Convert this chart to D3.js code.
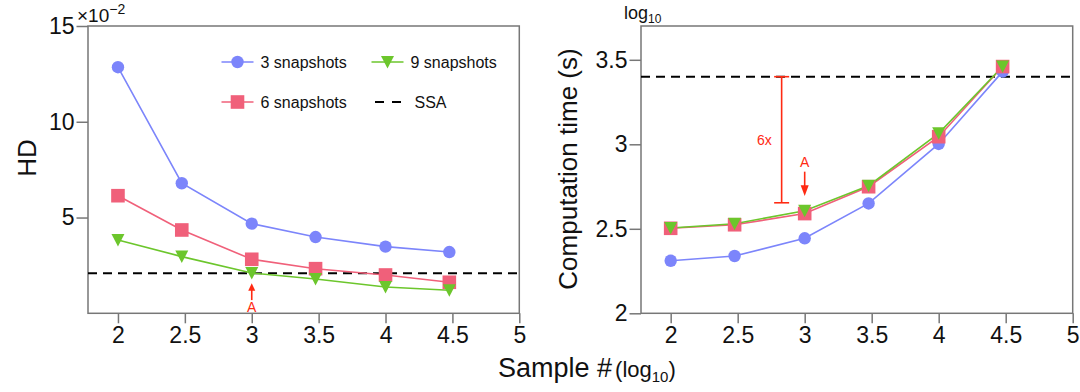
<!DOCTYPE html>
<html>
<head>
<meta charset="utf-8">
<script src="https://cdn.jsdelivr.net/npm/d3@7"></script>
<style>
  body { margin: 0; background: #fff; }
  svg { display: block; font-family: "Liberation Sans", Arial, Helvetica, sans-serif; }
</style>
</head>
<body>
<div class="graph"></div>
<script>
// sample # in log10 (100, 300, 1000, 3000, 10000, 30000)
var samples = [2, 2.477, 3, 3.477, 4, 4.477];

// HD (x10^-2)
var hd3 = [12.85, 6.79, 4.68, 3.98, 3.48, 3.20];
var hd6 = [6.14, 4.35, 2.82, 2.33, 2.00, 1.62];
var hd9 = [3.83, 2.96, 2.10, 1.79, 1.37, 1.20];
var hdSSA = 2.09;

// computation time, log10 seconds
var time3 = [2.311, 2.339, 2.444, 2.650, 3.002, 3.430];
var time6 = [2.503, 2.524, 2.590, 2.749, 3.045, 3.460];
var time9 = [2.505, 2.530, 2.607, 2.755, 3.065, 3.460];
var timeSSA = 3.40;

var xTicks = [2, 2.5, 3, 3.5, 4, 4.5, 5];
var hdTicks = [5, 10, 15];
var timeTicks = [2, 2.5, 3, 3.5];

var seriesNames = ["3 snapshots", "6 snapshots", "9 snapshots"];
var seriesColors = ["#7c85fb", "#f0607a", "#6cc62c"];
var seriesShapes = [d3.symbolCircle, d3.symbolSquare, "tri"];
var red = "#ff2a12";

var svg = d3.select(".graph").append("svg")
    .attr("width", 1080)
    .attr("height", 392);

function marker(sel, shape, color) {
    if (shape === "tri") {
        sel.append("path")
            .attr("d", "M-6.5,-6L6.5,-6L0,6.5Z")
            .attr("fill", color);
    } else if (shape === d3.symbolCircle) {
        sel.append("circle").attr("r", 6.2).attr("fill", color);
    } else {
        sel.append("rect").attr("x", -6.8).attr("y", -6.8)
            .attr("width", 13.6).attr("height", 13.6).attr("fill", color);
    }
}

function panel(opt) {
    var x = d3.scaleLinear().domain([opt.xmin, 5]).range(opt.xr);
    var y = d3.scaleLinear().domain(opt.ydom).range([313.3, 26]);
    var g = svg.append("g");

    // axes
    var xAxis = d3.axisBottom(x).tickValues(xTicks).tickSize(10).tickPadding(3.5)
        .tickFormat(function (d) { return d; });
    g.append("g").attr("transform", "translate(0," + y.range()[0] + ")")
        .call(xAxis)
        .call(function (a) {
            a.select(".domain").remove();
            a.selectAll("line").attr("stroke", "#777").attr("stroke-width", 1.5);
            a.selectAll("text").style("font-size", "23px").attr("fill", "#111");
        });
    var yAxis = d3.axisLeft(y).tickValues(opt.yticks).tickSize(11.5).tickPadding(2)
        .tickFormat(function (d) { return d; });
    g.append("g").attr("transform", "translate(" + x.range()[0] + ",0)")
        .call(yAxis)
        .call(function (a) {
            a.select(".domain").remove();
            a.selectAll("line").attr("stroke", "#777").attr("stroke-width", 1.5);
            a.selectAll("text").style("font-size", "23px").attr("fill", "#111");
        });

    // box
    g.append("rect")
        .attr("x", x.range()[0]).attr("y", y.range()[1])
        .attr("width", x.range()[1] - x.range()[0])
        .attr("height", y.range()[0] - y.range()[1])
        .attr("fill", "none").attr("stroke", "#777").attr("stroke-width", 1.5);

    // SSA
    g.append("line")
        .attr("x1", x.range()[0]).attr("x2", x.range()[1])
        .attr("y1", y(opt.ssa)).attr("y2", y(opt.ssa))
        .attr("stroke", "#000").attr("stroke-width", 2)
        .attr("stroke-dasharray", "9,6");

    var line = d3.line()
        .x(function (d, i) { return x(samples[i]); })
        .y(function (d) { return y(d); });

    opt.series.forEach(function (vals, k) {
        g.append("path").datum(vals)
            .attr("d", line)
            .attr("fill", "none")
            .attr("stroke", seriesColors[k])
            .attr("stroke-width", 1.6);
    });
    opt.series.forEach(function (vals, k) {
        g.selectAll(null).data(vals).enter().append("g")
            .attr("transform", function (d, i) { return "translate(" + x(samples[i]) + "," + y(d) + ")"; })
            .each(function () { marker(d3.select(this), seriesShapes[k], seriesColors[k]); });
    });
    return { g: g, x: x, y: y };
}

// ---------- left panel: HD ----------
var left = panel({
    xmin: 1.776, xr: [88, 519.3],
    ydom: [0, 15], yticks: hdTicks,
    ssa: hdSSA, series: [hd3, hd6, hd9]
});

// legend
var legendPos = [[237.5, 62], [237.5, 102], [387.5, 62]];
seriesNames.forEach(function (name, k) {
    var lg = left.g.append("g").attr("transform", "translate(" + legendPos[k][0] + "," + legendPos[k][1] + ")");
    lg.append("line").attr("x1", -16).attr("x2", 16)
        .attr("stroke", seriesColors[k]).attr("stroke-width", 1.6);
    marker(lg, seriesShapes[k], seriesColors[k]);
    lg.append("text").attr("x", 23).attr("dy", "0.35em")
        .style("font-size", "16px").attr("fill", "#111").text(name);
});
var ssaLg = left.g.append("g").attr("transform", "translate(387.5,102)");
ssaLg.append("line").attr("x1", -12.5).attr("x2", 13.5)
    .attr("stroke", "#000").attr("stroke-width", 2).attr("stroke-dasharray", "9,8");
ssaLg.append("text").attr("x", 27).attr("dy", "0.35em")
    .style("font-size", "16px").attr("fill", "#111").text("SSA");

// A arrow (left)
var lx = left.x(3);
left.g.append("line").attr("x1", lx).attr("x2", lx)
    .attr("y1", left.y(0.69)).attr("y2", left.y(1.3))
    .attr("stroke", red).attr("stroke-width", 1.6);
left.g.append("path")
    .attr("d", "M" + (lx - 3.5) + "," + (left.y(1.18)) + "L" + (lx + 3.5) + "," + (left.y(1.18)) + "L" + lx + "," + left.y(1.57) + "Z")
    .attr("fill", red);
left.g.append("text").attr("x", lx).attr("y", left.y(0.09))
    .attr("text-anchor", "middle").style("font-size", "14px").attr("fill", red).text("A");

// y label + multiplier
svg.append("text")
    .attr("transform", "translate(27,158) rotate(-90)")
    .attr("text-anchor", "middle").attr("dy", "0.35em")
    .style("font-size", "26px").attr("fill", "#111").text("HD");
var mult = svg.append("text").attr("x", 77).attr("y", 21.5)
    .style("font-size", "19px").attr("fill", "#111");
mult.append("tspan").text("\u00d710");
mult.append("tspan").attr("dy", -8).style("font-size", "14px").text("\u22122");

// ---------- right panel: computation time ----------
var right = panel({
    xmin: 1.7785, xr: [641, 1072.7],
    ydom: [2, 3.7], yticks: timeTicks,
    ssa: timeSSA, series: [time3, time6, time9]
});

// 6x bracket
var bx = right.x(2.828);
right.g.append("line").attr("x1", bx).attr("x2", bx)
    .attr("y1", right.y(timeSSA)).attr("y2", right.y(2.654))
    .attr("stroke", red).attr("stroke-width", 1.6);
[timeSSA, 2.654].forEach(function (v) {
    right.g.append("line").attr("x1", bx - 7.5).attr("x2", bx + 7.5)
        .attr("y1", right.y(v)).attr("y2", right.y(v))
        .attr("stroke", red).attr("stroke-width", 1.6);
});
right.g.append("text").attr("x", right.x(2.755)).attr("y", right.y(3.025))
    .attr("text-anchor", "end").attr("dy", "0.35em")
    .style("font-size", "14px").attr("fill", red).text("6x");

// A arrow (right)
var rx = right.x(3);
right.g.append("line").attr("x1", rx).attr("x2", rx)
    .attr("y1", right.y(2.838)).attr("y2", right.y(2.75))
    .attr("stroke", red).attr("stroke-width", 1.6);
right.g.append("path")
    .attr("d", "M" + (rx - 4) + "," + right.y(2.757) + "L" + (rx + 4) + "," + right.y(2.757) + "L" + rx + "," + right.y(2.694) + "Z")
    .attr("fill", red);
right.g.append("text").attr("x", rx).attr("y", right.y(2.864))
    .attr("text-anchor", "middle").style("font-size", "14px").attr("fill", red).text("A");

svg.append("text")
    .attr("transform", "translate(568,169) rotate(-90)")
    .attr("text-anchor", "middle").attr("dy", "0.35em")
    .style("font-size", "26px").attr("fill", "#111").text("Computation time (s)");
var lg10 = svg.append("text").attr("x", 624).attr("y", 19)
    .style("font-size", "18px").attr("fill", "#111");
lg10.append("tspan").text("log");
lg10.append("tspan").attr("dy", 4).style("font-size", "12px").text("10");

// ---------- shared x label ----------
var xl = svg.append("text").attr("x", 498).attr("y", 376.5).attr("fill", "#111");
xl.append("tspan").style("font-size", "27px").text("Sample #");
xl.append("tspan").attr("dx", 3).style("font-size", "22px").text("(log");
xl.append("tspan").attr("dy", 5).style("font-size", "15px").text("10");
xl.append("tspan").attr("dy", -5).style("font-size", "22px").text(")");
</script>
</body>
</html>
